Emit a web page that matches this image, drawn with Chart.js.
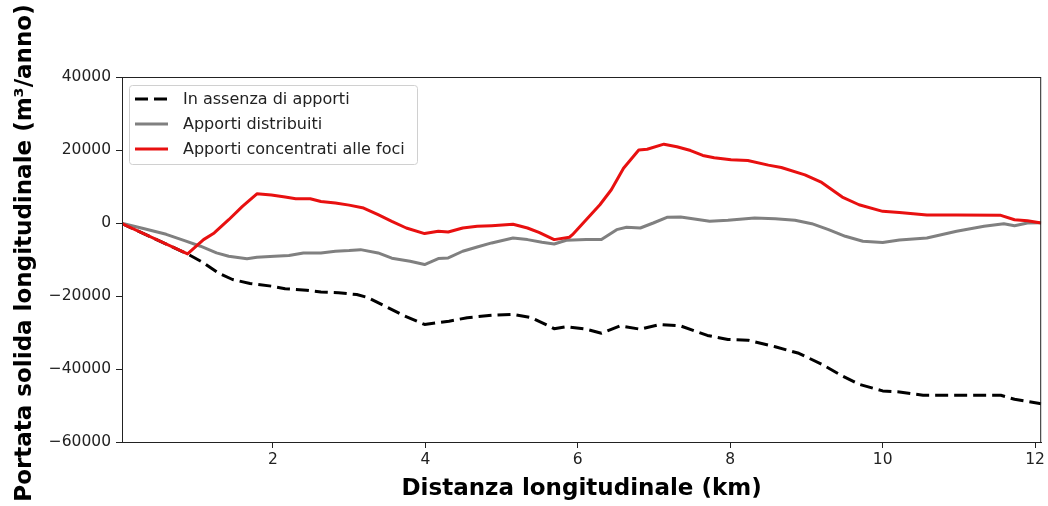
<!DOCTYPE html>
<html lang="it">
<head>
<meta charset="utf-8">
<title>Portata solida longitudinale</title>
<script src="https://cdn.jsdelivr.net/npm/chart.js@4.4.1/dist/chart.umd.min.js"></script>
<style>
  html, body { margin: 0; padding: 0; background: #fff; }
  #wrap { width: 1048px; height: 506px; }
</style>
</head>
<body>
<div id="wrap"><canvas id="chart" width="1048" height="506"></canvas></div>
<script>
// distanza (km) e portata (m3/anno) per ciascuno scenario
const kmAssenza = [0, 0.88, 1.09, 1.28, 1.47, 1.7, 1.98, 2.16, 2.44, 2.63, 2.86, 3.1, 3.24, 3.47, 3.71, 3.99,
  4.31, 4.55, 4.87, 5.15, 5.39, 5.62, 5.69, 5.85, 6.11, 6.31, 6.55, 6.82, 7.08, 7.35, 7.7, 7.97, 8.23,
  8.59, 8.9, 9.2, 9.47, 9.69, 10.0, 10.22, 10.53, 10.97, 11.55, 11.73, 12.08];
const qAssenza = [0, -8470, -10900, -13660, -15480, -16570, -17300, -18000, -18400, -18900, -19100, -19600,
  -20400, -22770, -25300, -27800, -26900, -25950, -25300, -25040, -25950, -28200, -28960, -28400, -29100,
  -30200, -28200, -29100, -27800, -28200, -30800, -31900, -32100, -33900, -35700, -38700, -41900, -44200,
  -46000, -46300, -47200, -47200, -47200, -48300, -49500];

const kmDistribuiti = [0, 0.3, 0.6, 0.85, 1.05, 1.26, 1.42, 1.66, 1.79, 2.02, 2.21, 2.4, 2.63, 2.82, 3.0, 3.15,
  3.38, 3.56, 3.8, 3.99, 4.17, 4.3, 4.49, 4.68, 4.87, 5.15, 5.34, 5.53, 5.69, 5.85, 6.11, 6.31, 6.51, 6.64,
  6.82, 6.99, 7.17, 7.35, 7.53, 7.73, 7.97, 8.32, 8.59, 8.85, 9.07, 9.29, 9.51, 9.74, 10.0, 10.22, 10.58,
  10.97, 11.33, 11.59, 11.73, 11.9, 12.08];
const qDistribuiti = [0, -1500, -3100, -4900, -6360, -8170, -9100, -9800, -9380, -9100, -8900, -8200, -8200,
  -7740, -7560, -7300, -8200, -9650, -10470, -11380, -9740, -9560, -7740, -6560, -5460, -4100, -4550, -5280,
  -5740, -4740, -4550, -4550, -1820, -1180, -1370, 0, 1550, 1640, 1090, 455, 730, 1370, 1180, 730, -180,
  -1820, -3640, -5000, -5370, -4640, -4100, -2280, -910, -180, -730, 0, 90];

const kmFoci = [0, 0.88, 1.09, 1.23, 1.42, 1.6, 1.79, 1.98, 2.16, 2.3, 2.49, 2.63, 2.82, 3.0, 3.19, 3.38, 3.56,
  3.75, 3.99, 4.17, 4.3, 4.49, 4.68, 4.87, 5.15, 5.34, 5.49, 5.69, 5.89, 5.93, 6.11, 6.29, 6.44, 6.6, 6.8,
  6.91, 7.13, 7.3, 7.48, 7.64, 7.79, 8.01, 8.23, 8.5, 8.67, 8.98, 9.2, 9.47, 9.69, 10.0, 10.22, 10.58, 10.97,
  11.55, 11.73, 11.9, 12.08];
const qFoci = [0, -8470, -4550, -2730, 900, 4550, 8000, 7650, 7100, 6650, 6650, 5900, 5460, 4900, 4100, 2280,
  450, -1370, -2900, -2280, -2460, -1370, -900, -730, -360, -1370, -2550, -4550, -3900, -3190, 910, 5000,
  9100, 15000, 20000, 20200, 21600, 20900, 19850, 18500, 17900, 17300, 17100, 15850, 15200, 13200, 11100,
  7100, 5000, 3190, 2900, 2190, 2190, 2100, 900, 640, 0];

const xTicks = [2, 4, 6, 8, 10, 12];
const yTicks = [-60000, -40000, -20000, 0, 20000, 40000];

const FONT = 'DejaVu Sans, Verdana, sans-serif';
const INK = '#222';

const toPoints = (xs, ys) => xs.map((x, i) => ({ x, y: ys[i] }));
const fmtNum = v => (v < 0 ? '\u2212' + Math.abs(v) : String(v));

// cornice completa del grafico, titoli degli assi e legenda
const framePlugin = {
  id: 'frame',
  afterDraw(chart) {
    const { ctx, chartArea: a } = chart;
    ctx.save();
    ctx.strokeStyle = INK;
    ctx.lineWidth = 1;
    ctx.strokeRect(a.left + 0.5, a.top + 0.5, a.right - a.left - 1, a.bottom - a.top);

    ctx.fillStyle = '#000';
    ctx.font = 'bold 23px ' + FONT;
    ctx.textAlign = 'center';
    ctx.textBaseline = 'middle';
    ctx.fillText('Distanza longitudinale (km)', (a.left + a.right) / 2, 489);

    ctx.save();
    ctx.translate(25, 253);
    ctx.rotate(-Math.PI / 2);
    ctx.fillText('Portata solida longitudinale (m\u00b3/anno)', 0, 0);
    ctx.restore();

    // legenda
    const lx = 129, ly = 85, lw = 288, lh = 79;
    ctx.beginPath();
    ctx.roundRect(lx + 0.5, ly + 0.5, lw, lh, 3);
    ctx.fillStyle = 'rgba(255,255,255,0.85)';
    ctx.fill();
    ctx.strokeStyle = '#d0d0d0';
    ctx.stroke();

    ctx.font = '16px ' + FONT;
    ctx.textAlign = 'left';
    chart.data.datasets.forEach((ds, i) => {
      const y = 99 + i * 25;
      ctx.beginPath();
      ctx.setLineDash(ds.borderDash || []);
      ctx.strokeStyle = ds.borderColor;
      ctx.lineWidth = ds.borderWidth;
      ctx.moveTo(135, y);
      ctx.lineTo(168, y);
      ctx.stroke();
      ctx.setLineDash([]);
      ctx.fillStyle = INK;
      ctx.fillText(ds.label, 183, y + 1);
    });
    ctx.restore();
  }
};

new Chart(document.getElementById('chart'), {
  type: 'line',
  data: {
    datasets: [
      {
        label: 'In assenza di apporti',
        data: toPoints(kmAssenza, qAssenza),
        borderColor: '#000',
        borderWidth: 3,
        borderDash: [13, 6],
        order: 3
      },
      {
        label: 'Apporti distribuiti',
        data: toPoints(kmDistribuiti, qDistribuiti),
        borderColor: '#808080',
        borderWidth: 3,
        order: 2
      },
      {
        label: 'Apporti concentrati alle foci',
        data: toPoints(kmFoci, qFoci),
        borderColor: '#e81010',
        borderWidth: 3,
        order: 1
      }
    ]
  },
  options: {
    responsive: false,
    animation: false,
    parsing: { xAxisKey: 'x', yAxisKey: 'y' },
    elements: { point: { radius: 0 }, line: { tension: 0, borderJoinStyle: 'round' } },
    layout: { padding: { left: 0, right: 5, top: 77, bottom: 0 } },
    plugins: { legend: { display: false }, tooltip: { enabled: false } },
    scales: {
      x: {
        type: 'linear',
        min: 0.02,
        max: 12.08,
        afterBuildTicks: s => { s.ticks = xTicks.map(v => ({ value: v })); },
        afterFit: s => { s.height = 64; },
        grid: { drawOnChartArea: false, drawTicks: true, tickLength: 6, color: INK },
        border: { display: true, color: INK },
        ticks: { color: INK, font: { family: FONT, size: 15.5 }, padding: 3, maxRotation: 0 }
      },
      y: {
        type: 'linear',
        min: -60000,
        max: 40000,
        afterBuildTicks: s => { s.ticks = yTicks.map(v => ({ value: v })); },
        afterFit: s => { s.width = 122; },
        grid: { drawOnChartArea: false, drawTicks: true, tickLength: 6, color: INK },
        border: { display: true, color: INK },
        ticks: { color: INK, font: { family: FONT, size: 15.5 }, padding: 5, callback: v => fmtNum(v) }
      }
    }
  },
  plugins: [framePlugin]
});
</script>
</body>
</html>
